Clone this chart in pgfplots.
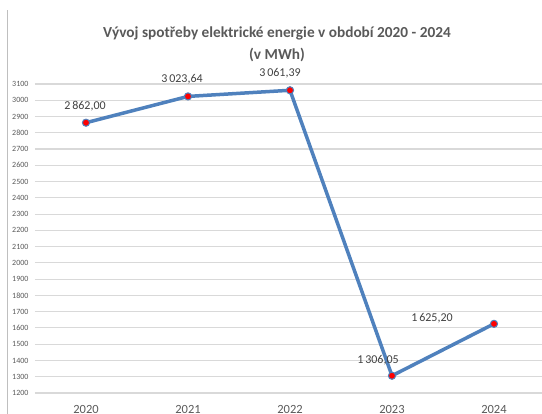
\documentclass[border=0pt]{standalone}
\usepackage{pgfplots}
\pgfplotsset{compat=1.18}
\usepackage{fontspec}
\setmainfont{Carlito}
\definecolor{lineblue}{HTML}{4F81BD}
\definecolor{gridgray}{HTML}{D9D9D9}
\definecolor{txtgray}{HTML}{595959}
\definecolor{lblgray}{HTML}{404040}
\begin{document}
\begin{tikzpicture}[x=1pt,y=1pt]
\begin{axis}[
  scale only axis, width=510pt, height=309pt,
  xmin=-0.5, xmax=4.5, ymin=1200, ymax=3100,
  ytick={1200,1300,...,3100},
  xtick={0,1,2,3,4},
  xticklabels={2020,2021,2022,2023,2024},
  ymajorgrids, grid style={gridgray, line width=1.1pt},
  axis line style={draw=none},
  major tick length=0pt,
  /pgf/number format/assume math mode=true,
  /pgf/number format/set thousands separator={},
  yticklabel style={font=\fontsize{8}{9}\selectfont, text=txtgray, xshift=-3pt},
  xticklabel style={font=\fontsize{12.5}{14}\selectfont, text=txtgray, yshift=-9pt},
  clip=false,
]
\coordinate (ll) at (rel axis cs:0,0);
\addplot[lineblue, line width=3.5pt, mark=*, mark size=3.6pt,
  mark options={fill=red, draw=lineblue, line width=1pt}]
  coordinates {(0,2862.00) (1,3023.64) (2,3061.39) (3,1306.05) (4,1625.20)};
\begin{scope}[every node/.style={font=\fontsize{12}{14}\selectfont, text=lblgray}]
\node at (axis cs:0,2862.00) [xshift=-1pt, yshift=17pt] {2\,862,00};
\node at (axis cs:1,3023.64) [xshift=-6pt, yshift=17.5pt] {3\,023,64};
\node at (axis cs:2,3061.39) [xshift=-10pt, yshift=17pt] {3\,061,39};
\node at (axis cs:3,1306.05) [xshift=-14pt, yshift=16pt] {1\,306,05};
\node at (axis cs:4,1625.20) [xshift=-62pt, yshift=6pt] {1\,625,20};
\end{scope}
\end{axis}
\begin{scope}[shift={(ll)}]
\draw[gray!50, line width=0.8pt] (-28,-21) -- (-28,383);
\node[font=\bfseries\fontsize{15.3}{18}\selectfont, text=txtgray] at (242,360) {Vývoj spotřeby elektrické energie v období 2020 - 2024};
\node[font=\bfseries\fontsize{15.3}{18}\selectfont, text=txtgray] at (242,338) {(v MWh)};
\end{scope}
\pgfresetboundingbox
\path[use as bounding box, shift={(ll)}] (-35,-21) rectangle (507,393);
\end{tikzpicture}
\end{document}
